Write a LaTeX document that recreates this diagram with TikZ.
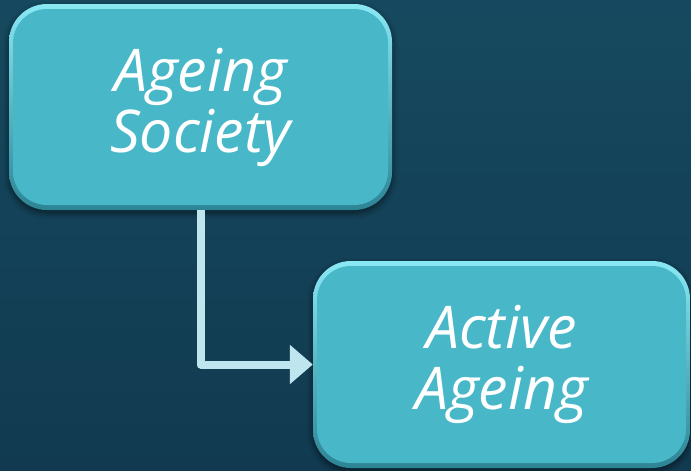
\documentclass[tikz,border=0pt]{standalone}
\usepackage{fontspec}
\setmainfont{Open Sans}
\usetikzlibrary{arrows.meta,shadows.blur}
\definecolor{bgtop}{HTML}{16495F}
\definecolor{bgbot}{HTML}{113A50}
\definecolor{boxfill}{HTML}{48B8C8}
\definecolor{rimtop}{HTML}{8AE8F4}
\definecolor{rimbot}{HTML}{2C8494}
\definecolor{arrowcol}{HTML}{BFE5EE}
\tikzset{
  bevelbox/.style={rectangle, rounded corners=38pt, top color=rimtop, bottom color=rimbot,
    minimum width=#1, inner sep=0pt, text=white, align=center,
    font=\fontsize{59}{61}\selectfont\itshape,
    blur shadow={shadow xshift=0pt, shadow yshift=-3pt, shadow blur steps=8, shadow opacity=55, shadow blur radius=6pt},
    path picture={\fill[boxfill, rounded corners=34pt]
      ([shift={(4pt,-5pt)}]path picture bounding box.north west) rectangle
      ([shift={(-4pt,5pt)}]path picture bounding box.south east);}},
  connector/.style={draw=arrowcol, line width=8pt, line join=round,
    -{Triangle[width=38pt,length=23pt]}}
}
\begin{document}
\begin{tikzpicture}[x=1pt,y=-1pt]
\shade[top color=bgtop, bottom color=bgbot] (0,0) rectangle (691,471);
\useasboundingbox (0,0) rectangle (691,471);
\node[bevelbox=383pt, minimum height=206pt] (soc) at (200.5,107) {Ageing\\Society};
\node[bevelbox=377pt, minimum height=207pt] (act) at (501.5,364.5) {Active\\Ageing};
\draw[connector] (soc.south) |- (act.west);
\end{tikzpicture}
\end{document}
